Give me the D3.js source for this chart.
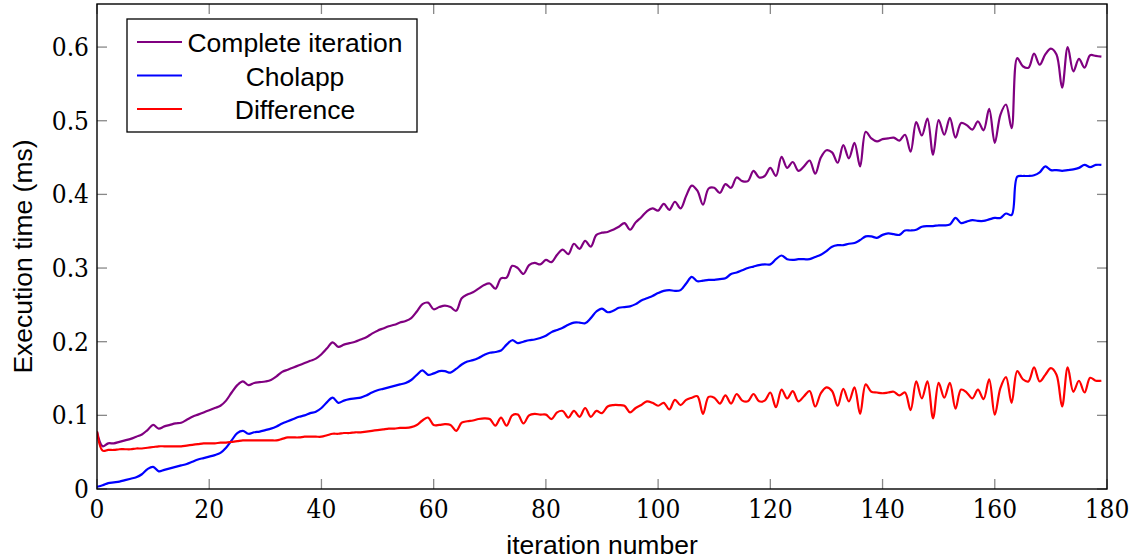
<!DOCTYPE html>
<html>
<head>
<meta charset="utf-8">
<script src="https://cdn.jsdelivr.net/npm/d3@7/dist/d3.min.js"></script>
<style>
  html, body { margin: 0; padding: 0; background: #fff; }
  svg { display: block; }
</style>
</head>
<body>
<svg id="chart" width="1143" height="560"></svg>
<script>
// iteration numbers 0..179
const iterations = d3.range(0, 180);

const completeIteration = [
  0.078, 0.058, 0.062, 0.062, 0.064, 0.066, 0.068, 0.071, 0.074, 0.080,
  0.087, 0.082, 0.085, 0.087, 0.089, 0.090, 0.094, 0.098, 0.101, 0.104,
  0.107, 0.110, 0.113, 0.120, 0.131, 0.141, 0.146, 0.141, 0.144, 0.145,
  0.146, 0.148, 0.153, 0.159, 0.162, 0.165, 0.168, 0.171, 0.174, 0.177,
  0.183, 0.191, 0.199, 0.193, 0.196, 0.198, 0.200, 0.203, 0.206, 0.211,
  0.215, 0.218, 0.221, 0.223, 0.226, 0.228, 0.232, 0.241, 0.251, 0.253,
  0.244, 0.247, 0.249, 0.247, 0.242, 0.259, 0.264, 0.267, 0.272, 0.277,
  0.279, 0.272, 0.286, 0.287, 0.303, 0.300, 0.292, 0.304, 0.307, 0.305,
  0.311, 0.308, 0.318, 0.325, 0.319, 0.333, 0.326, 0.337, 0.329, 0.345,
  0.348, 0.349, 0.352, 0.356, 0.361, 0.352, 0.362, 0.369, 0.377, 0.381,
  0.378, 0.387, 0.379, 0.390, 0.381, 0.398, 0.412, 0.405, 0.386, 0.408,
  0.409, 0.402, 0.414, 0.409, 0.423, 0.418, 0.418, 0.432, 0.423, 0.425,
  0.436, 0.425, 0.451, 0.436, 0.444, 0.432, 0.438, 0.446, 0.428, 0.450,
  0.460, 0.457, 0.443, 0.467, 0.449, 0.470, 0.438, 0.485, 0.476, 0.472,
  0.475, 0.476, 0.477, 0.473, 0.481, 0.458, 0.498, 0.480, 0.503, 0.454,
  0.501, 0.481, 0.504, 0.477, 0.497, 0.494, 0.488, 0.499, 0.487, 0.516,
  0.470, 0.508, 0.522, 0.490, 0.585, 0.574, 0.572, 0.591, 0.576, 0.590,
  0.598, 0.590, 0.545, 0.600, 0.567, 0.584, 0.572, 0.589, 0.588, 0.587
];

const cholapp = [
  0.003, 0.005, 0.008, 0.009, 0.010, 0.012, 0.014, 0.016, 0.020, 0.027,
  0.030, 0.024, 0.026, 0.028, 0.030, 0.032, 0.034, 0.037, 0.040, 0.042,
  0.044, 0.046, 0.049, 0.056, 0.066, 0.076, 0.079, 0.075, 0.077, 0.078,
  0.080, 0.082, 0.085, 0.089, 0.092, 0.095, 0.098, 0.100, 0.103, 0.105,
  0.110, 0.118, 0.124, 0.117, 0.120, 0.122, 0.123, 0.124, 0.127, 0.131,
  0.134, 0.136, 0.138, 0.140, 0.142, 0.144, 0.148, 0.155, 0.161, 0.155,
  0.157, 0.160, 0.160, 0.158, 0.163, 0.169, 0.173, 0.175, 0.178, 0.182,
  0.185, 0.186, 0.188, 0.196, 0.202, 0.198, 0.200, 0.202, 0.203, 0.205,
  0.208, 0.213, 0.216, 0.219, 0.223, 0.226, 0.226, 0.225, 0.232, 0.241,
  0.245, 0.240, 0.242, 0.246, 0.247, 0.248, 0.251, 0.256, 0.259, 0.262,
  0.266, 0.269, 0.270, 0.269, 0.270, 0.279, 0.288, 0.282, 0.283, 0.284,
  0.284, 0.285, 0.286, 0.292, 0.294, 0.297, 0.300, 0.302, 0.304, 0.305,
  0.305, 0.312, 0.317, 0.312, 0.311, 0.312, 0.312, 0.312, 0.315, 0.318,
  0.323, 0.329, 0.331, 0.331, 0.333, 0.334, 0.338, 0.343, 0.343, 0.341,
  0.345, 0.347, 0.346, 0.345, 0.351, 0.351, 0.352, 0.356, 0.357, 0.357,
  0.358, 0.358, 0.359, 0.368, 0.361, 0.363, 0.365, 0.364, 0.364, 0.366,
  0.368, 0.368, 0.374, 0.372, 0.424, 0.425, 0.425, 0.426, 0.430, 0.438,
  0.433, 0.433, 0.432, 0.433, 0.434, 0.436, 0.440, 0.437, 0.440, 0.440
];

const difference = [
  0.078, 0.052, 0.053, 0.053, 0.054, 0.054, 0.054, 0.055, 0.055, 0.056,
  0.057, 0.058, 0.058, 0.058, 0.058, 0.058, 0.059, 0.060, 0.061, 0.062,
  0.062, 0.062, 0.063, 0.063, 0.064, 0.065, 0.066, 0.066, 0.066, 0.066,
  0.066, 0.066, 0.066, 0.068, 0.070, 0.070, 0.070, 0.071, 0.071, 0.071,
  0.071, 0.073, 0.075, 0.075, 0.076, 0.076, 0.077, 0.077, 0.078, 0.079,
  0.080, 0.081, 0.082, 0.082, 0.083, 0.083, 0.084, 0.087, 0.093, 0.097,
  0.087, 0.087, 0.088, 0.087, 0.079, 0.090, 0.092, 0.093, 0.095, 0.096,
  0.095, 0.086, 0.097, 0.086, 0.100, 0.101, 0.089, 0.100, 0.102, 0.101,
  0.101, 0.095, 0.104, 0.106, 0.097, 0.106, 0.098, 0.110, 0.098, 0.106,
  0.103, 0.112, 0.114, 0.114, 0.113, 0.104, 0.110, 0.114, 0.119, 0.117,
  0.113, 0.117, 0.108, 0.121, 0.114, 0.121, 0.124, 0.126, 0.102, 0.125,
  0.124, 0.116, 0.127, 0.116, 0.129, 0.120, 0.119, 0.129, 0.119, 0.120,
  0.131, 0.111, 0.135, 0.123, 0.133, 0.119, 0.126, 0.133, 0.112, 0.130,
  0.138, 0.133, 0.113, 0.136, 0.119, 0.138, 0.102, 0.142, 0.132, 0.131,
  0.130, 0.131, 0.132, 0.127, 0.131, 0.107, 0.146, 0.123, 0.146, 0.096,
  0.144, 0.124, 0.144, 0.109, 0.135, 0.131, 0.123, 0.135, 0.122, 0.149,
  0.101, 0.137, 0.152, 0.117, 0.160, 0.149, 0.146, 0.165, 0.146, 0.155,
  0.164, 0.155, 0.112, 0.165, 0.132, 0.147, 0.131, 0.151, 0.147, 0.147
];

const seriesNames = ['Complete iteration', 'Cholapp', 'Difference'];
const seriesColors = ['#800080', '#0000ff', '#ff0000'];
const xTicks = [0, 20, 40, 60, 80, 100, 120, 140, 160, 180];
const yTicks = [0, 0.1, 0.2, 0.3, 0.4, 0.5, 0.6];

const series = [completeIteration, cholapp, difference];

const svg = d3.select('#chart');
const plotLeft = 97, plotRight = 1107, plotTop = 4, plotBottom = 489;

const x = d3.scaleLinear().domain([0, 180]).range([plotLeft, plotRight]);
const y = d3.scaleLinear().domain([0, 0.6585]).range([plotBottom, plotTop]);

const tickFont = '"DejaVu Serif Condensed", "DejaVu Serif", serif';
const labelFont = '"Liberation Sans", Arial, sans-serif';

// ticks on all four sides, pointing inwards
const tickLen = 10;
const ticks = svg.append('g').attr('stroke', '#888').attr('stroke-width', 1.3);
xTicks.forEach((t) => {
  ticks.append('line').attr('x1', x(t)).attr('x2', x(t)).attr('y1', plotBottom).attr('y2', plotBottom - tickLen);
  ticks.append('line').attr('x1', x(t)).attr('x2', x(t)).attr('y1', plotTop).attr('y2', plotTop + tickLen);
});
yTicks.forEach((t) => {
  ticks.append('line').attr('x1', plotLeft).attr('x2', plotLeft + tickLen).attr('y1', y(t)).attr('y2', y(t));
  ticks.append('line').attr('x1', plotRight).attr('x2', plotRight - tickLen).attr('y1', y(t)).attr('y2', y(t));
});

// tick labels
svg.append('g')
  .selectAll('text')
  .data(xTicks)
  .join('text')
  .attr('x', (d) => x(d))
  .attr('y', plotBottom + 29)
  .attr('text-anchor', 'middle')
  .style('font-family', tickFont)
  .style('font-stretch', 'condensed')
  .style('font-size', '26px')
  .text((d) => d);

svg.append('g')
  .selectAll('text')
  .data(yTicks)
  .join('text')
  .attr('x', plotLeft - 8)
  .attr('y', (d) => y(d) + 9)
  .attr('text-anchor', 'end')
  .style('font-family', tickFont)
  .style('font-stretch', 'condensed')
  .style('font-size', '26px')
  .text((d) => (d === 0 ? '0' : d3.format('.1f')(d)));

// lines
const line = d3.line()
  .x((d, i) => x(iterations[i]))
  .y((d) => y(d))
  .curve(d3.curveCatmullRom.alpha(0.5));

svg.append('defs').append('clipPath').attr('id', 'clip')
  .append('rect').attr('x', plotLeft).attr('y', plotTop)
  .attr('width', plotRight - plotLeft).attr('height', plotBottom - plotTop);

const lines = svg.append('g').attr('clip-path', 'url(#clip)');
series.forEach((s, k) => {
  lines.append('path')
    .datum(s)
    .attr('fill', 'none')
    .attr('stroke', seriesColors[k])
    .attr('stroke-width', 2.2)
    .attr('stroke-linejoin', 'round')
    .attr('d', line);
});

// frame
svg.append('rect')
  .attr('x', plotLeft).attr('y', plotTop)
  .attr('width', plotRight - plotLeft).attr('height', plotBottom - plotTop)
  .attr('fill', 'none').attr('stroke', '#000').attr('stroke-width', 1.4);

// axis labels
svg.append('text')
  .attr('x', (plotLeft + plotRight) / 2)
  .attr('y', 554)
  .attr('text-anchor', 'middle')
  .style('font-family', labelFont)
  .style('font-size', '26.5px')
  .text('iteration number');

svg.append('text')
  .attr('transform', `translate(32,${(plotTop + plotBottom) / 2 + 10}) rotate(-90)`)
  .attr('text-anchor', 'middle')
  .style('font-family', labelFont)
  .style('font-size', '26.5px')
  .text('Execution time (ms)');

// legend
const legend = svg.append('g');
legend.append('rect')
  .attr('x', 127).attr('y', 19).attr('width', 290).attr('height', 113)
  .attr('fill', '#fff').attr('stroke', '#000').attr('stroke-width', 1.3);

seriesNames.forEach((name, k) => {
  const ry = 42 + k * 33.5;
  legend.append('line')
    .attr('x1', 137).attr('x2', 182).attr('y1', ry).attr('y2', ry)
    .attr('stroke', seriesColors[k]).attr('stroke-width', 2);
  legend.append('text')
    .attr('x', 295).attr('y', ry + 10)
    .attr('text-anchor', 'middle')
    .style('font-family', labelFont)
    .style('font-size', '26.5px')
    .text(name);
});
</script>
</body>
</html>
